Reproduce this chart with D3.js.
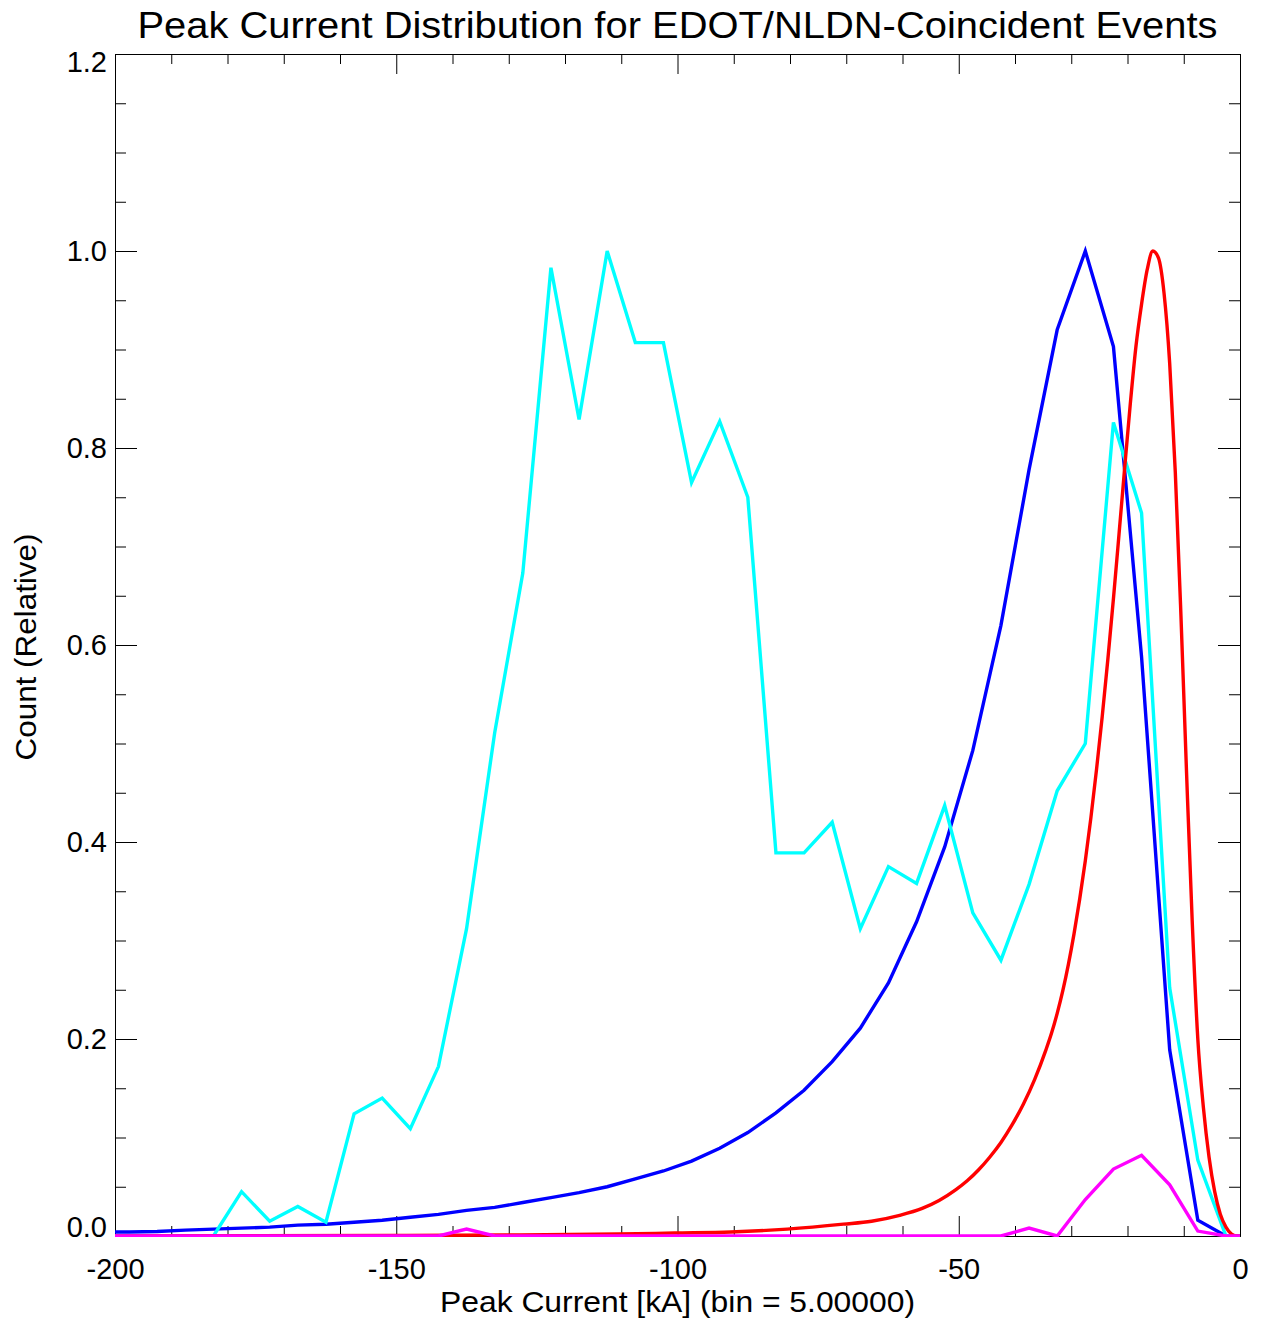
<!DOCTYPE html>
<html>
<head>
<meta charset="utf-8">
<script src="https://cdn.jsdelivr.net/npm/d3@7"></script>
<style>
  body { margin: 0; background: #fff; }
  text { font-family: "Liberation Sans", Arial, Helvetica, sans-serif; fill: #000; }
  .axis path, .axis line { stroke: #000; stroke-width: 1; }
</style>
</head>
<body>
<div id="chart-area"></div>
<script>

// Bin centres (kA), bin = 5
var binCenters = [-202.5, -197.5, -192.5, -187.5, -182.5, -177.5, -172.5, -167.5, -162.5, -157.5,
                  -152.5, -147.5, -142.5, -137.5, -132.5, -127.5, -122.5, -117.5, -112.5, -107.5,
                  -102.5, -97.5, -92.5, -87.5, -82.5, -77.5, -72.5, -67.5, -62.5, -57.5,
                  -52.5, -47.5, -42.5, -37.5, -32.5, -27.5, -22.5, -17.5, -12.5, -7.5,
                  -2.5, 2.5];

var blueCounts = [0.004, 0.004, 0.0045, 0.006, 0.007, 0.008, 0.009, 0.011, 0.012, 0.014,
                  0.016, 0.019, 0.022, 0.026, 0.029, 0.034, 0.039, 0.044, 0.050, 0.058,
                  0.066, 0.076, 0.089, 0.105, 0.125, 0.148, 0.177, 0.211, 0.257, 0.319,
                  0.395, 0.493, 0.620, 0.778, 0.920, 1.0, 0.903, 0.588, 0.189, 0.016,
                  0.0, 0.0];

var cyanCounts = [0, 0, 0, 0, 0, 0.045, 0.015, 0.030, 0.014, 0.124,
                  0.140, 0.109, 0.172, 0.312, 0.511, 0.673, 0.983, 0.829, 1.0, 0.907,
                  0.907, 0.765, 0.827, 0.750, 0.389, 0.389, 0.420, 0.312, 0.375, 0.358,
                  0.437, 0.328, 0.280, 0.357, 0.452, 0.500, 0.826, 0.734, 0.252, 0.077,
                  0.0, 0.0];

var magentaCounts = [0, 0, 0, 0, 0, 0, 0, 0, 0, 0,
                     0, 0, 0, 0.007, 0, 0, 0, 0, 0, 0,
                     0, 0, 0, 0, 0, 0, 0, 0, 0, 0,
                     0, 0, 0, 0.008, 0, 0.037, 0.068, 0.082, 0.052, 0.005,
                     0, 0];

// Red curve is sampled more finely (1 kA near the peak)
var redX = [-200.5, -150.5, -130.5, -110.5, -100.5, -90.5, -80.5, -70.5, -65.5, -60.5,
            -56.5, -53.5, -50.5, -48.5, -46.5, -44.5, -42.5, -40.5, -38.5, -36.5,
            -34.5, -33.5, -32.5, -31.5, -30.5, -29.5, -28.5, -27.5, -26.5, -25.5,
            -24.5, -23.5, -22.5, -21.5, -20.5, -19.5, -18.5, -17.5, -16.5, -15.5,
            -14.5, -13.5, -12.5, -11.5, -10.5, -9.5, -8.5, -7.5, -6.5, -5.5,
            -4.5, -3.5, -2.5, -1.5, -0.5, 0.5];
var redY = [0, 0.0005, 0.001, 0.002, 0.003, 0.004, 0.007, 0.012, 0.015, 0.021,
            0.028, 0.036, 0.047, 0.056, 0.067, 0.080, 0.095, 0.113, 0.134, 0.159,
            0.189, 0.206, 0.226, 0.249, 0.276, 0.307, 0.342, 0.381, 0.425, 0.474,
            0.527, 0.585, 0.647, 0.713, 0.780, 0.845, 0.903, 0.946, 0.981, 1.0,
            0.993, 0.957, 0.886, 0.775, 0.630, 0.470, 0.320, 0.200, 0.130, 0.080,
            0.045, 0.022, 0.009, 0.002, 0.0, 0.0];

var xMajor = [-200, -150, -100, -50, 0];
var xMinor = [-190, -180, -170, -160, -140, -130, -120, -110, -90, -80, -70, -60, -40, -30, -20, -10];
var yMajor = [0.0, 0.2, 0.4, 0.6, 0.8, 1.0, 1.2];
var yMinor = [0.05, 0.1, 0.15, 0.25, 0.3, 0.35, 0.45, 0.5, 0.55, 0.65, 0.7, 0.75,
              0.85, 0.9, 0.95, 1.05, 1.1, 1.15];

// SVG drawing area
var margin = {top: 54, right: 21, bottom: 86, left: 115};
var width = 1261 - margin.left - margin.right,
    height = 1322 - margin.top - margin.bottom;

var svg = d3.select("#chart-area").append("svg")
    .attr("width", width + margin.left + margin.right)
    .attr("height", height + margin.top + margin.bottom)
  .append("g")
    .attr("transform", "translate(" + margin.left + "," + margin.top + ")");

// Scales
var x = d3.scaleLinear().domain([-200, 0]).range([0, width]);
var y = d3.scaleLinear().domain([0, 1.2]).range([height, 0]);

svg.append("clipPath").attr("id", "clip")
  .append("rect").attr("width", width).attr("height", height + 2).attr("y", -1);

// Axes (ticks point inward on all four sides)
var fmtY = d3.format(".1f");

svg.append("g").attr("class", "axis")
    .attr("transform", "translate(0," + height + ")")
    .call(d3.axisBottom(x).tickValues(xMajor).tickSize(-20).tickPadding(22)
      .tickFormat(function(d) { return String(d); }))
    .call(function(g) { g.selectAll("text").attr("font-size", 29).attr("dy", "0.71em"); });
svg.append("g").attr("class", "axis")
    .attr("transform", "translate(0," + height + ")")
    .call(d3.axisBottom(x).tickValues(xMinor).tickSize(-10).tickFormat(""))
    .call(function(g) { g.select(".domain").remove(); });

svg.append("g").attr("class", "axis")
    .call(d3.axisTop(x).tickValues(xMajor).tickSize(-20).tickFormat(""));
svg.append("g").attr("class", "axis")
    .call(d3.axisTop(x).tickValues(xMinor).tickSize(-10).tickFormat(""))
    .call(function(g) { g.select(".domain").remove(); });

svg.append("g").attr("class", "axis")
    .call(d3.axisLeft(y).tickValues(yMajor).tickSize(-22).tickPadding(8).tickFormat(fmtY))
    .call(function(g) {
      g.selectAll("text").attr("font-size", 29)
        .attr("dy", function(d) { return d === 0 ? "0.0em" : (d === 1.2 ? "0.62em" : "0.32em"); });
    });
svg.append("g").attr("class", "axis")
    .call(d3.axisLeft(y).tickValues(yMinor).tickSize(-11).tickFormat(""))
    .call(function(g) { g.select(".domain").remove(); });

svg.append("g").attr("class", "axis")
    .attr("transform", "translate(" + width + ",0)")
    .call(d3.axisRight(y).tickValues(yMajor).tickSize(-22).tickFormat(""));
svg.append("g").attr("class", "axis")
    .attr("transform", "translate(" + width + ",0)")
    .call(d3.axisRight(y).tickValues(yMinor).tickSize(-11).tickFormat(""))
    .call(function(g) { g.select(".domain").remove(); });

// Lines
var line = d3.line()
    .x(function(d) { return x(d[0]); })
    .y(function(d) { return y(d[1]); });

var smoothLine = d3.line()
    .curve(d3.curveMonotoneX)
    .x(function(d) { return x(d[0]); })
    .y(function(d) { return y(d[1]); });

var series = [
  {color: "#0000ff", xs: binCenters, ys: blueCounts, gen: line},
  {color: "#00ffff", xs: binCenters, ys: cyanCounts, gen: line},
  {color: "#ff0000", xs: redX, ys: redY, gen: smoothLine},
  {color: "#ff00ff", xs: binCenters, ys: magentaCounts, gen: line}
];

svg.append("g").attr("clip-path", "url(#clip)")
  .selectAll("path.series")
  .data(series)
  .enter().append("path")
    .attr("class", "series")
    .attr("fill", "none")
    .attr("stroke", function(d) { return d.color; })
    .attr("stroke-width", 3.4)
    .attr("stroke-linejoin", "miter")
    .attr("d", function(d) { return d.gen(d.xs.map(function(v, i) { return [v, d.ys[i]]; })); });

// Titles
svg.append("text")
    .attr("x", width / 2)
    .attr("y", -16)
    .attr("text-anchor", "middle")
    .attr("font-size", 37)
    .attr("textLength", 1080)
    .attr("lengthAdjust", "spacingAndGlyphs")
    .text("Peak Current Distribution for EDOT/NLDN-Coincident Events");

svg.append("text")
    .attr("x", width / 2)
    .attr("y", height + 76)
    .attr("text-anchor", "middle")
    .attr("font-size", 29)
    .attr("textLength", 475)
    .attr("lengthAdjust", "spacingAndGlyphs")
    .text("Peak Current [kA] (bin = 5.00000)");

svg.append("text")
    .attr("transform", "translate(" + (36 - margin.left) + "," + (647 - margin.top) + ") rotate(-90)")
    .attr("text-anchor", "middle")
    .attr("font-size", 29)
    .attr("textLength", 227)
    .attr("lengthAdjust", "spacingAndGlyphs")
    .text("Count (Relative)");

</script>
</body>
</html>
